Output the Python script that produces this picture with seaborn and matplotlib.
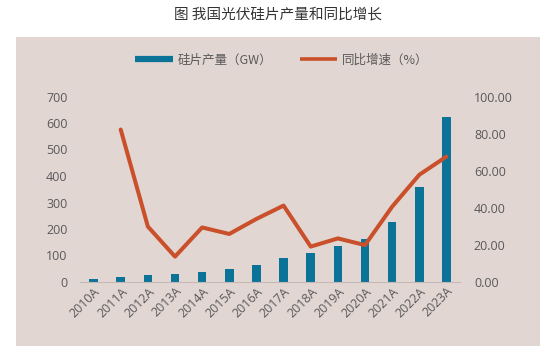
import numpy as np
import matplotlib.pyplot as plt
import matplotlib.patches as mpatches
from matplotlib.lines import Line2D
import seaborn as sns

sns.set_theme(style="white")
plt.rcParams['font.family'] = ['Open Sans', 'Noto Sans CJK SC', 'DejaVu Sans']

# 数据
years = ['2010A', '2011A', '2012A', '2013A', '2014A', '2015A', '2016A',
         '2017A', '2018A', '2019A', '2020A', '2021A', '2022A', '2023A']
output_gw = [10.9, 20, 26.3, 30, 38.4, 48.1, 64.8, 91.7, 109.2, 134.7,
             161.3, 226.6, 357, 622]
growth_pct = [None, 82.2, 29.9, 13.7, 29.4, 25.9, 34.0, 41.2, 19.1, 23.5,
              19.9, 40.6, 57.8, 67.6]

bar_color = '#0b7398'
line_color = '#c9502a'
text_color = '#595959'
bg_color = '#e2d6d3'

fig = plt.figure(figsize=(5.56, 3.54), dpi=100)
fig.patch.set_facecolor('white')
fig.patches.append(mpatches.Rectangle((16 / 556, 8 / 354), 524 / 556, 309 / 354,
                                      transform=fig.transFigure, facecolor=bg_color,
                                      edgecolor='none', zorder=-10))

ax = fig.add_axes([80 / 556, 72 / 354, 380 / 556, 185.5 / 354])
ax.set_facecolor('none')
sns.barplot(x=years, y=output_gw, color=bar_color, width=0.32,
            saturation=1, linewidth=0, ax=ax, zorder=2)
ax.set_xlim(-0.5, len(years) - 0.5)
ax.set_ylim(0, 700)
ax.set_yticks(range(0, 701, 100))

ax2 = ax.twinx()
ax2.set_facecolor('none')
sns.lineplot(x=np.arange(len(years)), y=growth_pct, color=line_color,
             linewidth=2.9, ax=ax2, zorder=3)
ax2.set_ylim(0, 100)
ax2.set_yticks(range(0, 101, 20))
ax2.set_yticklabels([f'{v:.2f}' for v in range(0, 101, 20)])

for a in (ax, ax2):
    for s in a.spines.values():
        s.set_visible(False)
    a.tick_params(length=0, colors=text_color, labelsize=9)
ax.spines['bottom'].set_visible(True)
ax.spines['bottom'].set_color('#c4b9b6')
ax.spines['bottom'].set_linewidth(0.8)
ax.tick_params(axis='y', pad=9)
ax2.tick_params(axis='y', pad=10)
ax.tick_params(axis='x', labelsize=9, pad=2)
plt.setp(ax.get_xticklabels(), rotation=45, ha='right', rotation_mode='anchor')

fig.text(0.5, 1 - 14 / 354, '图 我国光伏硅片产量和同比增长', ha='center', va='center',
         fontsize=10.5, color='#333333', family=['Noto Sans CJK SC', 'DejaVu Sans'])

handles = [Line2D([0], [0], color=bar_color, lw=4.5, solid_capstyle='butt'),
           Line2D([0], [0], color=line_color, lw=2.6, solid_capstyle='butt')]
fig.legend(handles, ['硅片产量（GW）', '同比增速（%）'], loc='center',
           bbox_to_anchor=(282 / 556, 1 - 60 / 354), ncol=2, frameon=False,
           handlelength=3.0, handletextpad=0.4, columnspacing=2.2,
           labelcolor=text_color, prop={'family': ['Noto Sans CJK SC', 'DejaVu Sans'], 'size': 9})

fig.savefig('out.png', dpi=100)
